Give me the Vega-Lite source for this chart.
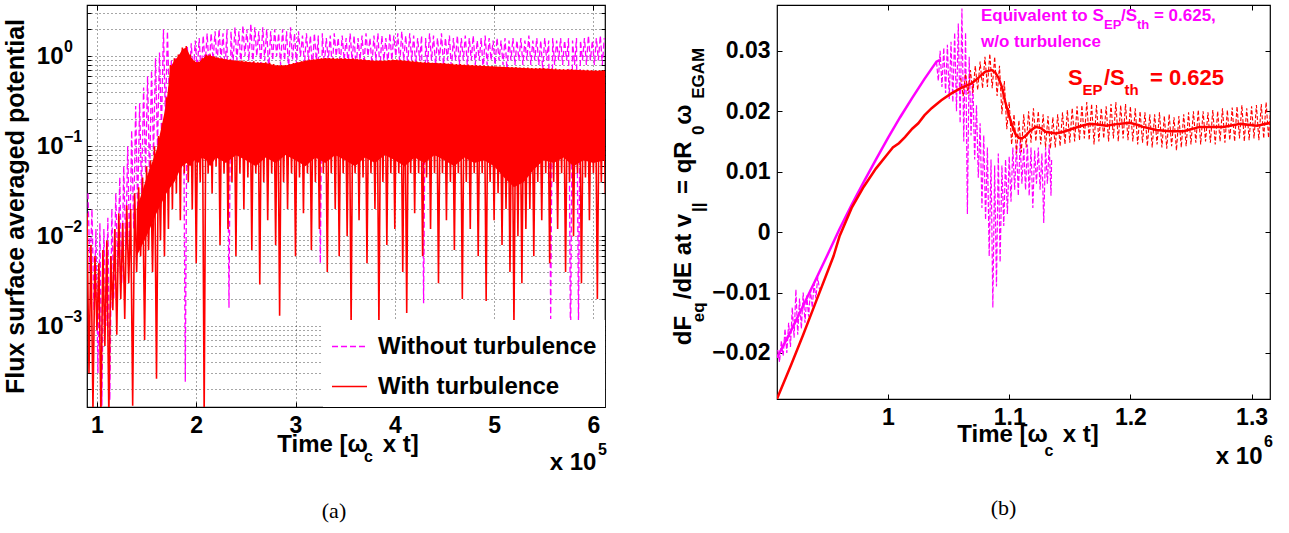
{
"$schema":"https://vega.github.io/schema/vega-lite/v6.json",
"background":"white",
"padding":{"left":2,"top":0,"right":5,"bottom":0},
"autosize":{"type":"pad"},
"bounds":"flush",
"spacing":172,
"resolve":{"scale":{"color":"independent","strokeDash":"independent"}},
"datasets":{
"am":[{"t":0.91,"v":0.03},{"t":0.93,"v":0.004},{"t":0.95,"v":0.02},{"t":0.97,"v":0.0015},{"t":0.99,"v":0.012},{"t":1.01,"v":0.0003},{"t":1.03,"v":0.014},{"t":1.05,"v":0.00013},{"t":1.07,"v":0.012},{"t":1.09,"v":0.001},{"t":1.11,"v":0.016},{"t":1.13,"v":0.00015},{"t":1.15,"v":0.02},{"t":1.17,"v":0.002},{"t":1.19,"v":0.03},{"t":1.21,"v":0.004},{"t":1.23,"v":0.045},{"t":1.25,"v":0.003},{"t":1.27,"v":0.06},{"t":1.29,"v":0.007},{"t":1.31,"v":0.1},{"t":1.33,"v":0.006},{"t":1.35,"v":0.15},{"t":1.37,"v":0.012},{"t":1.39,"v":0.28},{"t":1.41,"v":0.02},{"t":1.43,"v":0.3},{"t":1.45,"v":0.03},{"t":1.47,"v":0.45},{"t":1.49,"v":0.05},{"t":1.51,"v":0.6},{"t":1.53,"v":0.04},{"t":1.55,"v":0.7},{"t":1.57,"v":0.08},{"t":1.59,"v":0.95},{"t":1.61,"v":0.1},{"t":1.63,"v":1.1},{"t":1.65,"v":0.15},{"t":1.67,"v":2.0},{"t":1.69,"v":0.2},{"t":1.71,"v":1.9},{"t":1.73,"v":0.3},{"t":1.75,"v":0.9},{"t":1.77,"v":0.35},{"t":1.79,"v":0.95},{"t":1.81,"v":0.4},{"t":1.83,"v":1.05},{"t":1.85,"v":0.4},{"t":1.87,"v":1.15},{"t":1.89,"v":0.00024},{"t":1.91,"v":1.3},{"t":1.93,"v":0.5},{"t":1.95,"v":1.4},{"t":1.97,"v":0.6},{"t":1.99,"v":1.5},{"t":2.01,"v":0.7},{"t":2.03,"v":1.6},{"t":2.05,"v":0.6},{"t":2.07,"v":1.7},{"t":2.09,"v":0.8},{"t":2.11,"v":1.8},{"t":2.13,"v":0.7},{"t":2.15,"v":1.8},{"t":2.17,"v":0.9},{"t":2.19,"v":1.9},{"t":2.21,"v":0.8},{"t":2.23,"v":2.0},{"t":2.25,"v":0.9},{"t":2.27,"v":1.8},{"t":2.29,"v":0.7},{"t":2.31,"v":2.0},{"t":2.33,"v":0.0016},{"t":2.35,"v":1.9},{"t":2.37,"v":0.8},{"t":2.39,"v":2.1},{"t":2.41,"v":0.9},{"t":2.43,"v":1.9},{"t":2.45,"v":0.8},{"t":2.47,"v":2.2},{"t":2.49,"v":1.0},{"t":2.51,"v":2.0},{"t":2.53,"v":0.9},{"t":2.55,"v":2.3},{"t":2.57,"v":0.8},{"t":2.59,"v":2.1},{"t":2.61,"v":1.0},{"t":2.63,"v":1.9},{"t":2.65,"v":0.8},{"t":2.67,"v":2.1},{"t":2.69,"v":0.9},{"t":2.71,"v":2.0},{"t":2.73,"v":0.7},{"t":2.75,"v":1.9},{"t":2.77,"v":0.9},{"t":2.79,"v":2.0},{"t":2.81,"v":1.0},{"t":2.83,"v":1.8},{"t":2.85,"v":0.8},{"t":2.87,"v":2.0},{"t":2.89,"v":0.9},{"t":2.91,"v":1.9},{"t":2.93,"v":0.7},{"t":2.95,"v":2.1},{"t":2.97,"v":0.9},{"t":2.99,"v":1.8},{"t":3.01,"v":0.8},{"t":3.03,"v":1.9},{"t":3.05,"v":1.0},{"t":3.07,"v":1.7},{"t":3.09,"v":0.8},{"t":3.11,"v":1.8},{"t":3.13,"v":0.9},{"t":3.15,"v":1.7},{"t":3.17,"v":0.7},{"t":3.19,"v":1.8},{"t":3.21,"v":0.9},{"t":3.23,"v":1.7},{"t":3.25,"v":0.005},{"t":3.27,"v":1.8},{"t":3.29,"v":0.8},{"t":3.31,"v":1.6},{"t":3.33,"v":0.9},{"t":3.35,"v":1.7},{"t":3.37,"v":0.7},{"t":3.39,"v":1.8},{"t":3.41,"v":1.0},{"t":3.43,"v":1.6},{"t":3.45,"v":0.8},{"t":3.47,"v":1.7},{"t":3.49,"v":0.9},{"t":3.51,"v":1.6},{"t":3.53,"v":0.8},{"t":3.55,"v":1.8},{"t":3.57,"v":0.9},{"t":3.59,"v":1.7},{"t":3.61,"v":0.7},{"t":3.63,"v":1.6},{"t":3.65,"v":0.9},{"t":3.67,"v":1.7},{"t":3.69,"v":0.8},{"t":3.71,"v":1.8},{"t":3.73,"v":1.0},{"t":3.75,"v":1.6},{"t":3.77,"v":0.8},{"t":3.79,"v":1.7},{"t":3.81,"v":0.9},{"t":3.83,"v":1.8},{"t":3.85,"v":0.7},{"t":3.87,"v":1.7},{"t":3.89,"v":0.9},{"t":3.91,"v":1.6},{"t":3.93,"v":0.8},{"t":3.95,"v":1.8},{"t":3.97,"v":0.9},{"t":3.99,"v":1.7},{"t":4.01,"v":1.0},{"t":4.03,"v":1.8},{"t":4.05,"v":0.8},{"t":4.07,"v":1.9},{"t":4.09,"v":0.9},{"t":4.11,"v":1.7},{"t":4.13,"v":0.8},{"t":4.15,"v":1.8},{"t":4.17,"v":0.9},{"t":4.19,"v":1.7},{"t":4.21,"v":0.8},{"t":4.23,"v":1.6},{"t":4.25,"v":0.9},{"t":4.27,"v":1.7},{"t":4.29,"v":0.0018},{"t":4.31,"v":1.6},{"t":4.33,"v":0.8},{"t":4.35,"v":1.8},{"t":4.37,"v":0.9},{"t":4.39,"v":1.7},{"t":4.41,"v":0.8},{"t":4.43,"v":1.6},{"t":4.45,"v":0.9},{"t":4.47,"v":1.8},{"t":4.49,"v":0.8},{"t":4.51,"v":1.6},{"t":4.53,"v":0.9},{"t":4.55,"v":1.7},{"t":4.57,"v":0.7},{"t":4.59,"v":1.6},{"t":4.61,"v":0.9},{"t":4.63,"v":1.7},{"t":4.65,"v":0.8},{"t":4.67,"v":1.6},{"t":4.69,"v":0.9},{"t":4.71,"v":1.7},{"t":4.73,"v":0.8},{"t":4.75,"v":1.6},{"t":4.77,"v":0.9},{"t":4.79,"v":1.7},{"t":4.81,"v":0.8},{"t":4.83,"v":1.5},{"t":4.85,"v":0.9},{"t":4.87,"v":1.6},{"t":4.89,"v":0.7},{"t":4.91,"v":1.7},{"t":4.93,"v":0.8},{"t":4.95,"v":1.6},{"t":4.97,"v":0.9},{"t":4.99,"v":1.5},{"t":5.01,"v":0.8},{"t":5.03,"v":1.6},{"t":5.05,"v":0.9},{"t":5.07,"v":1.5},{"t":5.09,"v":0.8},{"t":5.11,"v":1.6},{"t":5.13,"v":0.7},{"t":5.15,"v":1.5},{"t":5.17,"v":0.9},{"t":5.19,"v":1.6},{"t":5.21,"v":0.8},{"t":5.23,"v":1.5},{"t":5.25,"v":0.9},{"t":5.27,"v":1.6},{"t":5.29,"v":0.8},{"t":5.31,"v":1.5},{"t":5.33,"v":0.9},{"t":5.35,"v":1.7},{"t":5.37,"v":0.8},{"t":5.39,"v":1.5},{"t":5.41,"v":0.9},{"t":5.43,"v":1.6},{"t":5.45,"v":0.8},{"t":5.47,"v":1.5},{"t":5.49,"v":0.7},{"t":5.51,"v":1.6},{"t":5.53,"v":0.9},{"t":5.55,"v":1.5},{"t":5.57,"v":0.0012},{"t":5.59,"v":1.6},{"t":5.61,"v":0.8},{"t":5.63,"v":1.5},{"t":5.65,"v":0.9},{"t":5.67,"v":1.6},{"t":5.69,"v":0.8},{"t":5.71,"v":1.5},{"t":5.73,"v":0.9},{"t":5.75,"v":1.6},{"t":5.77,"v":0.0005},{"t":5.79,"v":1.5},{"t":5.81,"v":0.8},{"t":5.83,"v":1.6},{"t":5.85,"v":0.001},{"t":5.87,"v":1.5},{"t":5.89,"v":0.9},{"t":5.91,"v":1.6},{"t":5.93,"v":0.8},{"t":5.95,"v":1.7},{"t":5.97,"v":0.9},{"t":5.99,"v":1.5},{"t":6.01,"v":0.8},{"t":6.03,"v":1.6},{"t":6.05,"v":0.9},{"t":6.07,"v":1.7},{"t":6.09,"v":0.8},{"t":6.11,"v":1.6}],
"ar":[{"t":0.90,"v":0.018},{"t":0.92,"v":0.0003},{"t":0.94,"v":0.008},{"t":0.96,"v":0.00012},{"t":0.98,"v":0.006},{"t":1.00,"v":0.0009},{"t":1.02,"v":0.005},{"t":1.04,"v":0.0001},{"t":1.06,"v":0.007},{"t":1.08,"v":0.0006},{"t":1.10,"v":0.009},{"t":1.12,"v":0.0001},{"t":1.14,"v":0.006},{"t":1.16,"v":0.0015},{"t":1.18,"v":0.012},{"t":1.20,"v":0.0008},{"t":1.22,"v":0.018},{"t":1.24,"v":0.002},{"t":1.26,"v":0.014},{"t":1.28,"v":0.0012},{"t":1.30,"v":0.022},{"t":1.32,"v":0.003},{"t":1.34,"v":0.02},{"t":1.36,"v":0.00013},{"t":1.38,"v":0.03},{"t":1.40,"v":0.004},{"t":1.42,"v":0.035},{"t":1.44,"v":0.006},{"t":1.46,"v":0.045},{"t":1.48,"v":0.0007},{"t":1.50,"v":0.06},{"t":1.52,"v":0.007},{"t":1.54,"v":0.07},{"t":1.56,"v":0.004},{"t":1.58,"v":0.1},{"t":1.60,"v":0.00026},{"t":1.62,"v":0.13},{"t":1.64,"v":0.009},{"t":1.66,"v":0.18},{"t":1.68,"v":0.006},{"t":1.70,"v":0.35},{"t":1.72,"v":0.012},{"t":1.74,"v":0.8},{"t":1.76,"v":0.02},{"t":1.78,"v":0.95},{"t":1.80,"v":0.03},{"t":1.82,"v":1.05},{"t":1.84,"v":0.015},{"t":1.86,"v":1.25},{"t":1.88,"v":0.05},{"t":1.90,"v":1.3},{"t":1.92,"v":0.04},{"t":1.94,"v":1.05},{"t":1.96,"v":0.02},{"t":1.98,"v":0.9},{"t":2.00,"v":0.005},{"t":2.02,"v":0.87},{"t":2.04,"v":0.04},{"t":2.06,"v":0.95},{"t":2.08,"v":0.0001},{"t":2.10,"v":1.05},{"t":2.12,"v":0.05},{"t":2.14,"v":1.05},{"t":2.16,"v":0.03},{"t":2.18,"v":1.0},{"t":2.20,"v":0.06},{"t":2.22,"v":0.97},{"t":2.24,"v":0.008},{"t":2.26,"v":0.95},{"t":2.28,"v":0.05},{"t":2.30,"v":0.93},{"t":2.32,"v":0.012},{"t":2.34,"v":0.92},{"t":2.36,"v":0.04},{"t":2.38,"v":0.9},{"t":2.40,"v":0.006},{"t":2.42,"v":0.9},{"t":2.44,"v":0.05},{"t":2.46,"v":0.9},{"t":2.48,"v":0.02},{"t":2.50,"v":0.88},{"t":2.52,"v":0.045},{"t":2.54,"v":0.87},{"t":2.56,"v":0.007},{"t":2.58,"v":0.88},{"t":2.60,"v":0.05},{"t":2.62,"v":0.86},{"t":2.64,"v":0.0029},{"t":2.66,"v":0.85},{"t":2.68,"v":0.04},{"t":2.70,"v":0.86},{"t":2.72,"v":0.015},{"t":2.74,"v":0.85},{"t":2.76,"v":0.05},{"t":2.78,"v":0.82},{"t":2.80,"v":0.008},{"t":2.82,"v":0.8},{"t":2.84,"v":0.0013},{"t":2.86,"v":0.8},{"t":2.88,"v":0.04},{"t":2.90,"v":0.8},{"t":2.92,"v":0.02},{"t":2.94,"v":0.82},{"t":2.96,"v":0.05},{"t":2.98,"v":0.84},{"t":3.00,"v":0.006},{"t":3.02,"v":0.86},{"t":3.04,"v":0.045},{"t":3.06,"v":0.88},{"t":3.08,"v":0.018},{"t":3.10,"v":0.9},{"t":3.12,"v":0.05},{"t":3.14,"v":0.92},{"t":3.16,"v":0.007},{"t":3.18,"v":0.93},{"t":3.20,"v":0.04},{"t":3.22,"v":0.94},{"t":3.24,"v":0.012},{"t":3.26,"v":0.95},{"t":3.28,"v":0.05},{"t":3.30,"v":0.96},{"t":3.32,"v":0.004},{"t":3.34,"v":0.96},{"t":3.36,"v":0.05},{"t":3.38,"v":0.96},{"t":3.40,"v":0.02},{"t":3.42,"v":0.95},{"t":3.44,"v":0.006},{"t":3.46,"v":0.95},{"t":3.48,"v":0.05},{"t":3.50,"v":0.95},{"t":3.52,"v":0.01},{"t":3.54,"v":0.94},{"t":3.56,"v":0.001},{"t":3.58,"v":0.95},{"t":3.60,"v":0.05},{"t":3.62,"v":0.94},{"t":3.64,"v":0.015},{"t":3.66,"v":0.93},{"t":3.68,"v":0.045},{"t":3.70,"v":0.92},{"t":3.72,"v":0.005},{"t":3.74,"v":0.91},{"t":3.76,"v":0.05},{"t":3.78,"v":0.9},{"t":3.80,"v":0.02},{"t":3.82,"v":0.9},{"t":3.84,"v":0.001},{"t":3.86,"v":0.9},{"t":3.88,"v":0.04},{"t":3.90,"v":0.9},{"t":3.92,"v":0.008},{"t":3.94,"v":0.91},{"t":3.96,"v":0.05},{"t":3.98,"v":0.92},{"t":4.00,"v":0.012},{"t":4.02,"v":0.92},{"t":4.04,"v":0.05},{"t":4.06,"v":0.91},{"t":4.08,"v":0.004},{"t":4.10,"v":0.9},{"t":4.12,"v":0.0014},{"t":4.14,"v":0.9},{"t":4.16,"v":0.05},{"t":4.18,"v":0.89},{"t":4.20,"v":0.018},{"t":4.22,"v":0.88},{"t":4.24,"v":0.05},{"t":4.26,"v":0.87},{"t":4.28,"v":0.006},{"t":4.30,"v":0.86},{"t":4.32,"v":0.045},{"t":4.34,"v":0.86},{"t":4.36,"v":0.012},{"t":4.38,"v":0.85},{"t":4.40,"v":0.05},{"t":4.42,"v":0.85},{"t":4.44,"v":0.003},{"t":4.46,"v":0.84},{"t":4.48,"v":0.05},{"t":4.50,"v":0.84},{"t":4.52,"v":0.015},{"t":4.54,"v":0.83},{"t":4.56,"v":0.04},{"t":4.58,"v":0.83},{"t":4.60,"v":0.007},{"t":4.62,"v":0.82},{"t":4.64,"v":0.05},{"t":4.66,"v":0.82},{"t":4.68,"v":0.002},{"t":4.70,"v":0.81},{"t":4.72,"v":0.04},{"t":4.74,"v":0.81},{"t":4.76,"v":0.012},{"t":4.78,"v":0.8},{"t":4.80,"v":0.05},{"t":4.82,"v":0.8},{"t":4.84,"v":0.006},{"t":4.86,"v":0.79},{"t":4.88,"v":0.05},{"t":4.90,"v":0.79},{"t":4.92,"v":0.0019},{"t":4.94,"v":0.78},{"t":4.96,"v":0.04},{"t":4.98,"v":0.78},{"t":5.00,"v":0.015},{"t":5.02,"v":0.77},{"t":5.04,"v":0.03},{"t":5.06,"v":0.77},{"t":5.08,"v":0.008},{"t":5.10,"v":0.77},{"t":5.12,"v":0.02},{"t":5.14,"v":0.76},{"t":5.16,"v":0.004},{"t":5.18,"v":0.76},{"t":5.20,"v":0.001},{"t":5.22,"v":0.76},{"t":5.24,"v":0.01},{"t":5.26,"v":0.75},{"t":5.28,"v":0.003},{"t":5.30,"v":0.75},{"t":5.32,"v":0.012},{"t":5.34,"v":0.75},{"t":5.36,"v":0.02},{"t":5.38,"v":0.74},{"t":5.40,"v":0.006},{"t":5.42,"v":0.74},{"t":5.44,"v":0.04},{"t":5.46,"v":0.74},{"t":5.48,"v":0.015},{"t":5.50,"v":0.74},{"t":5.52,"v":0.05},{"t":5.54,"v":0.73},{"t":5.56,"v":0.005},{"t":5.58,"v":0.73},{"t":5.60,"v":0.04},{"t":5.62,"v":0.73},{"t":5.64,"v":0.012},{"t":5.66,"v":0.72},{"t":5.68,"v":0.05},{"t":5.70,"v":0.72},{"t":5.72,"v":0.004},{"t":5.74,"v":0.72},{"t":5.76,"v":0.04},{"t":5.78,"v":0.72},{"t":5.80,"v":0.01},{"t":5.82,"v":0.71},{"t":5.84,"v":0.05},{"t":5.86,"v":0.71},{"t":5.88,"v":0.003},{"t":5.90,"v":0.71},{"t":5.92,"v":0.045},{"t":5.94,"v":0.71},{"t":5.96,"v":0.015},{"t":5.98,"v":0.7},{"t":6.00,"v":0.05},{"t":6.02,"v":0.7},{"t":6.04,"v":0.002},{"t":6.06,"v":0.7},{"t":6.08,"v":0.04},{"t":6.10,"v":0.7},{"t":6.12,"v":0.03}],
"arb":[{"t":1.40,"lo":0.006,"hi":0.02},{"t":1.50,"lo":0.01,"hi":0.045},{"t":1.60,"lo":0.018,"hi":0.09},{"t":1.70,"lo":0.03,"hi":0.3},{"t":1.74,"lo":0.035,"hi":0.75},{"t":1.78,"lo":0.04,"hi":0.9},{"t":1.82,"lo":0.05,"hi":1.0},{"t":1.86,"lo":0.06,"hi":1.2},{"t":1.90,"lo":0.065,"hi":1.25},{"t":1.94,"lo":0.06,"hi":1.0},{"t":1.98,"lo":0.07,"hi":0.88},{"t":2.02,"lo":0.065,"hi":0.85},{"t":2.06,"lo":0.075,"hi":0.93},{"t":2.10,"lo":0.07,"hi":1.02},{"t":2.14,"lo":0.06,"hi":1.02},{"t":2.2,"lo":0.075,"hi":0.97},{"t":2.3,"lo":0.065,"hi":0.92},{"t":2.4,"lo":0.08,"hi":0.89},{"t":2.5,"lo":0.07,"hi":0.87},{"t":2.6,"lo":0.06,"hi":0.85},{"t":2.7,"lo":0.075,"hi":0.84},{"t":2.8,"lo":0.065,"hi":0.79},{"t":2.9,"lo":0.08,"hi":0.79},{"t":3.0,"lo":0.07,"hi":0.84},{"t":3.1,"lo":0.06,"hi":0.89},{"t":3.2,"lo":0.075,"hi":0.92},{"t":3.3,"lo":0.065,"hi":0.95},{"t":3.4,"lo":0.08,"hi":0.94},{"t":3.5,"lo":0.07,"hi":0.94},{"t":3.6,"lo":0.06,"hi":0.93},{"t":3.7,"lo":0.075,"hi":0.91},{"t":3.8,"lo":0.065,"hi":0.89},{"t":3.9,"lo":0.08,"hi":0.89},{"t":4.0,"lo":0.07,"hi":0.91},{"t":4.1,"lo":0.06,"hi":0.89},{"t":4.2,"lo":0.075,"hi":0.87},{"t":4.3,"lo":0.065,"hi":0.85},{"t":4.4,"lo":0.08,"hi":0.84},{"t":4.5,"lo":0.07,"hi":0.83},{"t":4.6,"lo":0.06,"hi":0.81},{"t":4.7,"lo":0.075,"hi":0.8},{"t":4.8,"lo":0.065,"hi":0.79},{"t":4.9,"lo":0.07,"hi":0.78},{"t":5.0,"lo":0.06,"hi":0.77},{"t":5.1,"lo":0.045,"hi":0.76},{"t":5.2,"lo":0.035,"hi":0.75},{"t":5.3,"lo":0.04,"hi":0.74},{"t":5.4,"lo":0.055,"hi":0.73},{"t":5.5,"lo":0.07,"hi":0.73},{"t":5.6,"lo":0.065,"hi":0.72},{"t":5.7,"lo":0.075,"hi":0.71},{"t":5.8,"lo":0.06,"hi":0.71},{"t":5.9,"lo":0.07,"hi":0.7},{"t":6.0,"lo":0.065,"hi":0.69},{"t":6.117,"lo":0.07,"hi":0.69}],
"atx":[{"t":2.8164,"v":3.97e-5,"txt":"Time [ω","g":"m"},{"t":3.878,"v":3.97e-5,"txt":"x t]","g":"m"},{"t":5.56,"v":2.5e-5,"txt":"x 10","g":"m"},{"t":3.689,"v":3.07e-5,"txt":"c","g":"s"},{"t":6.046,"v":3.67e-5,"txt":"5","g":"s"},{"t":0.6684,"v":1.108,"txt":"0","g":"e"},{"t":0.6684,"v":0.1108,"txt":"−1","g":"e"},{"t":0.6684,"v":0.01108,"txt":"−2","g":"e"},{"t":0.6684,"v":0.001108,"txt":"−3","g":"e"}],
"bms":[{"t":0.9084,"v":-0.0208},{"t":0.92,"v":-0.0163},{"t":0.93,"v":-0.0122},{"t":0.94,"v":-0.008},{"t":0.95,"v":-0.0038},{"t":0.96,"v":0.0005},{"t":0.97,"v":0.0045},{"t":0.98,"v":0.0083},{"t":0.99,"v":0.012},{"t":1.0,"v":0.0156},{"t":1.01,"v":0.019},{"t":1.02,"v":0.0222},{"t":1.03,"v":0.0253},{"t":1.04,"v":0.0282},{"t":1.043,"v":0.0285}],
"bmr":[{"t":0.909,"v":-0.0195,"s":1},{"t":0.9105,"v":-0.0215,"s":1},{"t":0.912,"v":-0.018,"s":1},{"t":0.9135,"v":-0.0205,"s":1},{"t":0.915,"v":-0.016,"s":1},{"t":0.9165,"v":-0.02,"s":1},{"t":0.918,"v":-0.015,"s":1},{"t":0.9195,"v":-0.019,"s":1},{"t":0.921,"v":-0.0125,"s":1},{"t":0.9225,"v":-0.0175,"s":1},{"t":0.924,"v":-0.0095,"s":1},{"t":0.9255,"v":-0.017,"s":1},{"t":0.927,"v":-0.011,"s":1},{"t":0.9285,"v":-0.016,"s":1},{"t":0.93,"v":-0.01,"s":1},{"t":0.9315,"v":-0.015,"s":1},{"t":0.933,"v":-0.0105,"s":1},{"t":0.9345,"v":-0.014,"s":1},{"t":0.936,"v":-0.0095,"s":1},{"t":0.9375,"v":-0.0125,"s":1},{"t":0.939,"v":-0.0085,"s":1},{"t":0.9405,"v":-0.011,"s":1},{"t":0.942,"v":-0.0075,"s":1},{"t":0.9435,"v":-0.0095,"s":1},
{"t":1.04,"v":0.0282,"s":2},{"t":1.0415,"v":0.025,"s":2},{"t":1.043,"v":0.03,"s":2},{"t":1.0445,"v":0.024,"s":2},{"t":1.046,"v":0.0305,"s":2},{"t":1.0475,"v":0.023,"s":2},{"t":1.049,"v":0.031,"s":2},{"t":1.0505,"v":0.022,"s":2},{"t":1.052,"v":0.0315,"s":2},{"t":1.0535,"v":0.0215,"s":2},{"t":1.055,"v":0.033,"s":2},{"t":1.0565,"v":0.02,"s":2},{"t":1.058,"v":0.0345,"s":2},{"t":1.0595,"v":0.018,"s":2},{"t":1.061,"v":0.037,"s":2},{"t":1.0625,"v":0.015,"s":2},{"t":1.064,"v":0.033,"s":2},{"t":1.0655,"v":0.003,"s":2},{"t":1.067,"v":0.029,"s":2},{"t":1.0685,"v":0.016,"s":2},{"t":1.07,"v":0.025,"s":2},{"t":1.0715,"v":0.012,"s":2},{"t":1.073,"v":0.021,"s":2},{"t":1.0745,"v":0.009,"s":2},{"t":1.076,"v":0.018,"s":2},{"t":1.0775,"v":0.004,"s":2},{"t":1.079,"v":0.016,"s":2},{"t":1.0805,"v":0.002,"s":2},{"t":1.082,"v":0.014,"s":2},{"t":1.0835,"v":-0.004,"s":2},{"t":1.085,"v":0.012,"s":2},{"t":1.0865,"v":-0.0125,"s":2},{"t":1.088,"v":0.011,"s":2},{"t":1.0895,"v":-0.009,"s":2},{"t":1.091,"v":0.013,"s":2},{"t":1.0925,"v":-0.005,"s":2},{"t":1.094,"v":0.011,"s":2},{"t":1.0955,"v":0.001,"s":2},{"t":1.097,"v":0.012,"s":2},{"t":1.0985,"v":0.003,"s":2},{"t":1.1,"v":0.0125,"s":2},{"t":1.1015,"v":0.005,"s":2},{"t":1.103,"v":0.014,"s":2},{"t":1.1045,"v":0.007,"s":2},{"t":1.106,"v":0.0145,"s":2},{"t":1.1075,"v":0.006,"s":2},{"t":1.109,"v":0.015,"s":2},{"t":1.1105,"v":0.008,"s":2},{"t":1.112,"v":0.014,"s":2},{"t":1.1135,"v":0.007,"s":2},{"t":1.115,"v":0.0145,"s":2},{"t":1.1165,"v":0.006,"s":2},{"t":1.118,"v":0.014,"s":2},{"t":1.1195,"v":0.004,"s":2},{"t":1.121,"v":0.0135,"s":2},{"t":1.1225,"v":0.008,"s":2},{"t":1.124,"v":0.014,"s":2},{"t":1.1255,"v":0.007,"s":2},{"t":1.127,"v":0.013,"s":2},{"t":1.1285,"v":0.0015,"s":2},{"t":1.13,"v":0.014,"s":2},{"t":1.1315,"v":0.008,"s":2},{"t":1.133,"v":0.0145,"s":2},{"t":1.1345,"v":0.006,"s":2},{"t":1.135,"v":0.012,"s":2}],
"brs":[{"t":0.9084,"v":-0.0276},{"t":0.92,"v":-0.022},{"t":0.93,"v":-0.017},{"t":0.94,"v":-0.0118},{"t":0.95,"v":-0.0066},{"t":0.955,"v":-0.004},{"t":0.96,"v":-0.0007},{"t":0.97,"v":0.004},{"t":0.98,"v":0.0075},{"t":0.99,"v":0.0105},{"t":1.0,"v":0.013},{"t":1.004,"v":0.014},{"t":1.009,"v":0.0147},{"t":1.014,"v":0.0157},{"t":1.02,"v":0.0171},{"t":1.025,"v":0.018},{"t":1.03,"v":0.0193},{"t":1.036,"v":0.0205},{"t":1.044,"v":0.0218},{"t":1.052,"v":0.0229},{"t":1.06,"v":0.0238},{"t":1.069,"v":0.0246},{"t":1.075,"v":0.0256},{"t":1.08,"v":0.0265},{"t":1.0856,"v":0.0268},{"t":1.0885,"v":0.0264},{"t":1.0912,"v":0.0255},{"t":1.094,"v":0.024},{"t":1.0967,"v":0.0216},{"t":1.0995,"v":0.0195},{"t":1.1022,"v":0.0178},{"t":1.105,"v":0.0163},{"t":1.1078,"v":0.0156},{"t":1.1105,"v":0.0155},{"t":1.1134,"v":0.0159},{"t":1.117,"v":0.0167},{"t":1.1217,"v":0.0174},{"t":1.126,"v":0.0172},{"t":1.13,"v":0.0166},{"t":1.1383,"v":0.0163},{"t":1.145,"v":0.0166},{"t":1.152,"v":0.0171},{"t":1.16,"v":0.0176},{"t":1.166,"v":0.0179},{"t":1.173,"v":0.0178},{"t":1.18,"v":0.0176},{"t":1.19,"v":0.0179},{"t":1.1993,"v":0.0181},{"t":1.205,"v":0.0178},{"t":1.2104,"v":0.0174},{"t":1.2215,"v":0.0169},{"t":1.232,"v":0.0167},{"t":1.2436,"v":0.0167},{"t":1.2574,"v":0.0174},{"t":1.2769,"v":0.0174},{"t":1.2908,"v":0.0179},{"t":1.3046,"v":0.0176},{"t":1.316,"v":0.0181}],
"brr":[{"t":1.06,"v":0.0255},{"t":1.062,"v":0.0225},{"t":1.064,"v":0.0262},{"t":1.066,"v":0.0228},{"t":1.068,"v":0.0268},{"t":1.07,"v":0.023},{"t":1.072,"v":0.0275},{"t":1.074,"v":0.0235},{"t":1.076,"v":0.0282},{"t":1.078,"v":0.0238},{"t":1.08,"v":0.029},{"t":1.082,"v":0.024},{"t":1.084,"v":0.0295},{"t":1.086,"v":0.0238},{"t":1.088,"v":0.029},{"t":1.09,"v":0.0225},{"t":1.092,"v":0.0275},{"t":1.094,"v":0.0195},{"t":1.096,"v":0.025},{"t":1.098,"v":0.017},{"t":1.1,"v":0.0215},{"t":1.102,"v":0.0145},{"t":1.104,"v":0.0195},{"t":1.106,"v":0.013},{"t":1.108,"v":0.0185},{"t":1.11,"v":0.0132},{"t":1.112,"v":0.0195},{"t":1.114,"v":0.014},{"t":1.116,"v":0.02},{"t":1.118,"v":0.0148},{"t":1.12,"v":0.0205},{"t":1.122,"v":0.015},{"t":1.124,"v":0.02},{"t":1.126,"v":0.0145},{"t":1.128,"v":0.0195},{"t":1.13,"v":0.014},{"t":1.132,"v":0.0192},{"t":1.134,"v":0.0138},{"t":1.136,"v":0.019},{"t":1.138,"v":0.014},{"t":1.14,"v":0.0195},{"t":1.142,"v":0.0142},{"t":1.144,"v":0.0198},{"t":1.146,"v":0.0145},{"t":1.148,"v":0.0202},{"t":1.15,"v":0.0148},{"t":1.152,"v":0.0205},{"t":1.154,"v":0.015},{"t":1.156,"v":0.0208},{"t":1.158,"v":0.0152},{"t":1.16,"v":0.021},{"t":1.162,"v":0.0155},{"t":1.164,"v":0.0215},{"t":1.166,"v":0.0152},{"t":1.168,"v":0.0212},{"t":1.17,"v":0.0145},{"t":1.172,"v":0.021},{"t":1.174,"v":0.015},{"t":1.176,"v":0.0205},{"t":1.178,"v":0.0155},{"t":1.18,"v":0.0208},{"t":1.182,"v":0.015},{"t":1.184,"v":0.0212},{"t":1.186,"v":0.0155},{"t":1.188,"v":0.0215},{"t":1.19,"v":0.015},{"t":1.192,"v":0.021},{"t":1.194,"v":0.0155},{"t":1.196,"v":0.0212},{"t":1.198,"v":0.0152},{"t":1.2,"v":0.0208},{"t":1.202,"v":0.015},{"t":1.204,"v":0.0205},{"t":1.206,"v":0.0145},{"t":1.208,"v":0.02},{"t":1.21,"v":0.0148},{"t":1.212,"v":0.0198},{"t":1.214,"v":0.0142},{"t":1.216,"v":0.0195},{"t":1.218,"v":0.014},{"t":1.22,"v":0.0195},{"t":1.222,"v":0.0145},{"t":1.224,"v":0.0198},{"t":1.226,"v":0.014},{"t":1.228,"v":0.0192},{"t":1.23,"v":0.0138},{"t":1.232,"v":0.0195},{"t":1.234,"v":0.0142},{"t":1.236,"v":0.019},{"t":1.238,"v":0.0135},{"t":1.24,"v":0.0192},{"t":1.242,"v":0.014},{"t":1.244,"v":0.0195},{"t":1.246,"v":0.0142},{"t":1.248,"v":0.0198},{"t":1.25,"v":0.0145},{"t":1.252,"v":0.02},{"t":1.254,"v":0.0148},{"t":1.256,"v":0.0202},{"t":1.258,"v":0.0145},{"t":1.26,"v":0.02},{"t":1.262,"v":0.015},{"t":1.264,"v":0.0198},{"t":1.266,"v":0.0148},{"t":1.268,"v":0.0202},{"t":1.27,"v":0.0145},{"t":1.272,"v":0.02},{"t":1.274,"v":0.015},{"t":1.276,"v":0.0205},{"t":1.278,"v":0.0148},{"t":1.28,"v":0.0202},{"t":1.282,"v":0.0152},{"t":1.284,"v":0.0206},{"t":1.286,"v":0.015},{"t":1.288,"v":0.0208},{"t":1.29,"v":0.0155},{"t":1.292,"v":0.021},{"t":1.294,"v":0.015},{"t":1.296,"v":0.0205},{"t":1.298,"v":0.0152},{"t":1.3,"v":0.0208},{"t":1.302,"v":0.0155},{"t":1.304,"v":0.021},{"t":1.306,"v":0.0152},{"t":1.308,"v":0.0212},{"t":1.31,"v":0.0155},{"t":1.312,"v":0.0215},{"t":1.314,"v":0.0156},{"t":1.316,"v":0.0212}],
"btx":[{"t":1.0572,"v":-0.03481,"txt":"Time [ω","g":"m"},{"t":1.1442,"v":-0.03481,"txt":"x t]","g":"m"},{"t":1.2705,"v":-0.0384,"txt":"x 10","g":"m"},{"t":1.1291,"v":-0.03702,"txt":"c","g":"s"},{"t":1.3102,"v":-0.03564,"txt":"6","g":"s"},
{"t":0.8375,"v":-0.01873,"txt":"dF","g":"ym"},{"t":0.8375,"v":-0.01111,"txt":"/dE at v","g":"ym"},{"t":0.8375,"v":0.0063,"txt":"= qR","g":"ym"},{"t":0.8375,"v":0.01774,"txt":"ω","g":"ym"},
{"t":0.8482,"v":-0.01492,"txt":"eq","g":"ys"},{"t":0.8482,"v":0.00332,"txt":"||","g":"ys"},{"t":0.8482,"v":0.01608,"txt":"0","g":"ys"},{"t":0.8482,"v":0.02205,"txt":"EGAM","g":"ys"},
{"t":1.0767,"v":0.03497,"txt":"Equivalent to S","g":"pm"},{"t":1.1922,"v":0.03497,"txt":"/S","g":"pm"},{"t":1.2194,"v":0.03497,"txt":"= 0.625,","g":"pm"},{"t":1.0767,"v":0.03067,"txt":"w/o turbulence","g":"pm"},
{"t":1.1782,"v":0.03365,"txt":"EP","g":"ps"},{"t":1.2054,"v":0.03365,"txt":"th","g":"ps"},
{"t":1.1485,"v":0.02432,"txt":"S","g":"rm"},{"t":1.1782,"v":0.02432,"txt":"/S","g":"rm"},{"t":1.2162,"v":0.02432,"txt":"= 0.625","g":"rm"},
{"t":1.1605,"v":0.02266,"txt":"EP","g":"rs"},{"t":1.1951,"v":0.02266,"txt":"th","g":"rs"}]
},
"hconcat":[
{
"width":518,"height":402,
"title":{"text":"(a)","orient":"bottom","anchor":"middle","font":"Liberation Serif","fontSize":22,"fontWeight":"normal","color":"#000","offset":26,"dx":-12},
"resolve":{"axis":{"x":"independent","y":"independent"}},
"layer":[
{"data":{"name":"am"},
"mark":{"type":"line","clip":true,"strokeWidth":1.3},
"encoding":{
"x":{"field":"t","type":"quantitative","scale":{"domain":[0.9,6.117],"nice":false,"zero":false},"axis":{"orient":"bottom","values":[1,2,3,4,5,6],"format":"d","title":null,"grid":true,"gridDash":[1,3],"gridColor":"#000","gridOpacity":0.7,"tickSize":-5,"labelPadding":12.5}},
"y":{"field":"v","type":"quantitative","scale":{"type":"log","domain":[0.000126,3.72],"nice":false},"axis":{"orient":"left","values":[0.0002,0.0003,0.0004,0.0005,0.0006,0.0007,0.0008,0.0009,0.001,0.002,0.003,0.004,0.005,0.006,0.007,0.008,0.009,0.01,0.02,0.03,0.04,0.05,0.06,0.07,0.08,0.09,0.1,0.2,0.3,0.4,0.5,0.6,0.7,0.8,0.9,1,2,3],"labelExpr":"datum.value == 1 || datum.value == 0.1 || datum.value == 0.01 || datum.value == 0.001 ? '10' : ''","title":"Flux surface averaged potential","titlePadding":8,"titleFontSize":25,"grid":true,"gridDash":[1,3],"gridColor":"#000","gridOpacity":0.7,"tickSize":-4,"labelPadding":28,"labelFontSize":24}},
"color":{"datum":"Without turbulence","type":"nominal","scale":{"domain":["Without turbulence","With turbulence"],"range":["#ff00ff","#ff0000"]},"legend":{"title":null,"orient":"bottom-right","offset":0,"fillColor":"white","padding":8,"labelFontSize":24,"labelFont":"Liberation Sans","labelFontWeight":"bold","labelColor":"#000","symbolType":"stroke","symbolSize":1225,"symbolStrokeWidth":1.5,"labelOffset":10,"rowPadding":9,"labelLimit":400}},
"strokeDash":{"datum":"Without turbulence","type":"nominal","scale":{"domain":["Without turbulence","With turbulence"],"range":[[6,3],[1,0]]},"legend":{"title":null,"orient":"bottom-right","offset":0,"fillColor":"white","padding":8,"labelFontSize":24,"labelFont":"Liberation Sans","labelFontWeight":"bold","labelColor":"#000","symbolType":"stroke","symbolSize":1225,"symbolStrokeWidth":1.5,"labelOffset":10,"rowPadding":9,"labelLimit":400}}
}},
{"data":{"name":"arb"},
"mark":{"type":"area","clip":true,"color":"#ff0000","opacity":1},
"encoding":{
"x":{"field":"t","type":"quantitative","scale":{"domain":[0.9,6.117],"nice":false,"zero":false},"axis":null},
"y":{"field":"lo","type":"quantitative","scale":{"type":"log","domain":[0.000126,3.72],"nice":false},"axis":null},
"y2":{"field":"hi"}}},
{"data":{"name":"ar"},
"mark":{"type":"line","clip":true,"strokeWidth":1.6},
"encoding":{
"x":{"field":"t","type":"quantitative","scale":{"domain":[0.9,6.117],"nice":false,"zero":false},"axis":{"orient":"top","values":[1,2,3,4,5,6],"labels":false,"title":null,"grid":false,"tickSize":-5}},
"y":{"field":"v","type":"quantitative","scale":{"type":"log","domain":[0.000126,3.72],"nice":false},"axis":{"orient":"right","values":[0.0002,0.0003,0.0004,0.0005,0.0006,0.0007,0.0008,0.0009,0.001,0.002,0.003,0.004,0.005,0.006,0.007,0.008,0.009,0.01,0.02,0.03,0.04,0.05,0.06,0.07,0.08,0.09,0.1,0.2,0.3,0.4,0.5,0.6,0.7,0.8,0.9,1,2,3],"labels":false,"title":null,"grid":false,"tickSize":-4}},
"color":{"datum":"With turbulence","type":"nominal","scale":{"domain":["Without turbulence","With turbulence"],"range":["#ff00ff","#ff0000"]}},
"strokeDash":{"datum":"With turbulence","type":"nominal","scale":{"domain":["Without turbulence","With turbulence"],"range":[[6,3],[1,0]]}}
}},
{"data":{"name":"atx"},"transform":[{"filter":"datum.g == 'm'"}],
"mark":{"type":"text","clip":false,"align":"left","baseline":"alphabetic","font":"Liberation Sans","fontWeight":"bold","fontSize":24,"color":"#000"},
"encoding":{
"x":{"field":"t","type":"quantitative","scale":{"domain":[0.9,6.117],"nice":false,"zero":false},"axis":null},
"y":{"field":"v","type":"quantitative","scale":{"type":"log","domain":[0.000126,3.72],"nice":false},"axis":null},
"text":{"field":"txt"}}},
{"data":{"name":"atx"},"transform":[{"filter":"datum.g == 's'"}],
"mark":{"type":"text","clip":false,"align":"left","baseline":"alphabetic","font":"Liberation Sans","fontWeight":"bold","fontSize":16,"color":"#000"},
"encoding":{
"x":{"field":"t","type":"quantitative","scale":{"domain":[0.9,6.117],"nice":false,"zero":false},"axis":null},
"y":{"field":"v","type":"quantitative","scale":{"type":"log","domain":[0.000126,3.72],"nice":false},"axis":null},
"text":{"field":"txt"}}},
{"data":{"name":"atx"},"transform":[{"filter":"datum.g == 'e'"}],
"mark":{"type":"text","clip":false,"align":"left","baseline":"alphabetic","font":"Liberation Sans","fontWeight":"bold","fontSize":16,"color":"#000"},
"encoding":{
"x":{"field":"t","type":"quantitative","scale":{"domain":[0.9,6.117],"nice":false,"zero":false},"axis":null},
"y":{"field":"v","type":"quantitative","scale":{"type":"log","domain":[0.000126,3.72],"nice":false},"axis":null},
"text":{"field":"txt"}}}
]
},
{
"width":493,"height":394,
"title":{"text":"(b)","orient":"bottom","anchor":"middle","font":"Liberation Serif","fontSize":22,"fontWeight":"normal","color":"#000","offset":29,"dx":-20},
"resolve":{"axis":{"x":"independent","y":"independent"}},
"layer":[
{"mark":{"type":"rule","color":"#000","strokeDash":[6,4],"strokeWidth":1},
"encoding":{"y":{"datum":0,"type":"quantitative","scale":{"domain":[-0.02762,0.03757],"nice":false,"zero":false},"axis":null}}},
{"data":{"name":"bmr"},
"mark":{"type":"line","clip":true,"color":"#ff00ff","strokeWidth":1.2,"strokeDash":[5,2]},
"encoding":{
"x":{"field":"t","type":"quantitative","scale":{"domain":[0.9084,1.3152],"nice":false,"zero":false},"axis":{"orient":"bottom","values":[1,1.1,1.2,1.3],"format":"~g","title":null,"grid":false,"tickSize":-5,"labelPadding":12.5}},
"y":{"field":"v","type":"quantitative","scale":{"domain":[-0.02762,0.03757],"nice":false,"zero":false},"axis":{"orient":"left","values":[-0.02,-0.01,0,0.01,0.02,0.03],"format":"~g","title":null,"grid":false,"tickSize":-5,"labelPadding":12}},
"detail":{"field":"s","type":"nominal"}}},
{"data":{"name":"bms"},
"mark":{"type":"line","clip":true,"color":"#ff00ff","strokeWidth":2.5},
"encoding":{
"x":{"field":"t","type":"quantitative","scale":{"domain":[0.9084,1.3152],"nice":false,"zero":false},"axis":null},
"y":{"field":"v","type":"quantitative","scale":{"domain":[-0.02762,0.03757],"nice":false,"zero":false},"axis":null}}},
{"data":{"name":"brr"},
"mark":{"type":"line","clip":true,"color":"#ff0000","strokeWidth":1.1,"strokeDash":[4,2]},
"encoding":{
"x":{"field":"t","type":"quantitative","scale":{"domain":[0.9084,1.3152],"nice":false,"zero":false},"axis":null},
"y":{"field":"v","type":"quantitative","scale":{"domain":[-0.02762,0.03757],"nice":false,"zero":false},"axis":null}}},
{"data":{"name":"brs"},
"mark":{"type":"line","clip":true,"color":"#ff0000","strokeWidth":2.5},
"encoding":{
"x":{"field":"t","type":"quantitative","scale":{"domain":[0.9084,1.3152],"nice":false,"zero":false},"axis":{"orient":"top","values":[1,1.1,1.2,1.3],"labels":false,"title":null,"grid":false,"tickSize":-5}},
"y":{"field":"v","type":"quantitative","scale":{"domain":[-0.02762,0.03757],"nice":false,"zero":false},"axis":{"orient":"right","values":[-0.02,-0.01,0,0.01,0.02,0.03],"labels":false,"title":null,"grid":false,"tickSize":-5}}}},
{"data":{"name":"btx"},"transform":[{"filter":"datum.g == 'm'"}],
"mark":{"type":"text","clip":false,"align":"left","baseline":"alphabetic","font":"Liberation Sans","fontWeight":"bold","fontSize":24,"color":"#000"},
"encoding":{
"x":{"field":"t","type":"quantitative","scale":{"domain":[0.9084,1.3152],"nice":false,"zero":false},"axis":null},
"y":{"field":"v","type":"quantitative","scale":{"domain":[-0.02762,0.03757],"nice":false,"zero":false},"axis":null},
"text":{"field":"txt"}}},
{"data":{"name":"btx"},"transform":[{"filter":"datum.g == 's'"}],
"mark":{"type":"text","clip":false,"align":"left","baseline":"alphabetic","font":"Liberation Sans","fontWeight":"bold","fontSize":16,"color":"#000"},
"encoding":{
"x":{"field":"t","type":"quantitative","scale":{"domain":[0.9084,1.3152],"nice":false,"zero":false},"axis":null},
"y":{"field":"v","type":"quantitative","scale":{"domain":[-0.02762,0.03757],"nice":false,"zero":false},"axis":null},
"text":{"field":"txt"}}},
{"data":{"name":"btx"},"transform":[{"filter":"datum.g == 'ym'"}],
"mark":{"type":"text","clip":false,"align":"left","baseline":"alphabetic","angle":270,"font":"Liberation Sans","fontWeight":"bold","fontSize":24,"color":"#000"},
"encoding":{
"x":{"field":"t","type":"quantitative","scale":{"domain":[0.9084,1.3152],"nice":false,"zero":false},"axis":null},
"y":{"field":"v","type":"quantitative","scale":{"domain":[-0.02762,0.03757],"nice":false,"zero":false},"axis":null},
"text":{"field":"txt"}}},
{"data":{"name":"btx"},"transform":[{"filter":"datum.g == 'ys'"}],
"mark":{"type":"text","clip":false,"align":"left","baseline":"alphabetic","angle":270,"font":"Liberation Sans","fontWeight":"bold","fontSize":17,"color":"#000"},
"encoding":{
"x":{"field":"t","type":"quantitative","scale":{"domain":[0.9084,1.3152],"nice":false,"zero":false},"axis":null},
"y":{"field":"v","type":"quantitative","scale":{"domain":[-0.02762,0.03757],"nice":false,"zero":false},"axis":null},
"text":{"field":"txt"}}},
{"data":{"name":"btx"},"transform":[{"filter":"datum.g == 'pm'"}],
"mark":{"type":"text","clip":false,"align":"left","baseline":"alphabetic","font":"Liberation Sans","fontWeight":"bold","fontSize":17,"color":"#ff00ff"},
"encoding":{
"x":{"field":"t","type":"quantitative","scale":{"domain":[0.9084,1.3152],"nice":false,"zero":false},"axis":null},
"y":{"field":"v","type":"quantitative","scale":{"domain":[-0.02762,0.03757],"nice":false,"zero":false},"axis":null},
"text":{"field":"txt"}}},
{"data":{"name":"btx"},"transform":[{"filter":"datum.g == 'ps'"}],
"mark":{"type":"text","clip":false,"align":"left","baseline":"alphabetic","font":"Liberation Sans","fontWeight":"bold","fontSize":13,"color":"#ff00ff"},
"encoding":{
"x":{"field":"t","type":"quantitative","scale":{"domain":[0.9084,1.3152],"nice":false,"zero":false},"axis":null},
"y":{"field":"v","type":"quantitative","scale":{"domain":[-0.02762,0.03757],"nice":false,"zero":false},"axis":null},
"text":{"field":"txt"}}},
{"data":{"name":"btx"},"transform":[{"filter":"datum.g == 'rm'"}],
"mark":{"type":"text","clip":false,"align":"left","baseline":"alphabetic","font":"Liberation Sans","fontWeight":"bold","fontSize":22,"color":"#ff0000"},
"encoding":{
"x":{"field":"t","type":"quantitative","scale":{"domain":[0.9084,1.3152],"nice":false,"zero":false},"axis":null},
"y":{"field":"v","type":"quantitative","scale":{"domain":[-0.02762,0.03757],"nice":false,"zero":false},"axis":null},
"text":{"field":"txt"}}},
{"data":{"name":"btx"},"transform":[{"filter":"datum.g == 'rs'"}],
"mark":{"type":"text","clip":false,"align":"left","baseline":"alphabetic","font":"Liberation Sans","fontWeight":"bold","fontSize":15,"color":"#ff0000"},
"encoding":{
"x":{"field":"t","type":"quantitative","scale":{"domain":[0.9084,1.3152],"nice":false,"zero":false},"axis":null},
"y":{"field":"v","type":"quantitative","scale":{"domain":[-0.02762,0.03757],"nice":false,"zero":false},"axis":null},
"text":{"field":"txt"}}}
]
}
],
"config":{
"view":{"stroke":"#000","strokeWidth":1.2},
"axis":{"labelFont":"Liberation Sans","labelFontWeight":"bold","labelFontSize":23,"labelColor":"#000","titleFont":"Liberation Sans","titleFontWeight":"bold","titleFontSize":24,"titleColor":"#000","tickColor":"#000","tickWidth":1,"domain":false,"labelFlush":false,"labelOverlap":false,"labelBound":false}
}
}
